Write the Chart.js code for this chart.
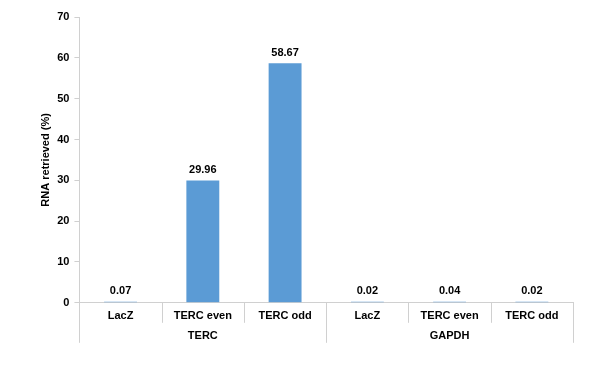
<!DOCTYPE html>
<html>
<head>
<meta charset="utf-8">
<script src="https://cdn.jsdelivr.net/npm/chart.js@4"></script>
<style>
  body { margin: 0; background: #fff; }
  #wrap { width: 600px; height: 383px; }
</style>
</head>
<body>
<div id="wrap"><canvas id="rnaChart" width="600" height="383"></canvas></div>
<script>
// data
var categories = ["LacZ", "TERC even", "TERC odd", "LacZ", "TERC even", "TERC odd"];
var groups = ["TERC", "GAPDH"];
var groupSizes = [3, 3];
var retrieved = [0.07, 29.96, 58.67, 0.02, 0.04, 0.02];
var yTicks = [0, 10, 20, 30, 40, 50, 60, 70];

var lineGrey = "#d0d0d0";
var fontFam = "'Liberation Sans', Arial, sans-serif";

// value labels on top of bars
var barLabels = {
	id: "barLabels",
	afterDatasetsDraw: function(chart) {
		var ctx = chart.ctx;
		var meta = chart.getDatasetMeta(0);
		ctx.save();
		ctx.font = "bold 11px " + fontFam;
		ctx.fillStyle = "#000";
		ctx.textAlign = "center";
		ctx.textBaseline = "bottom";
		meta.data.forEach(function(bar, i) {
			ctx.fillText(retrieved[i].toFixed(2), bar.x, bar.y - 5);
		});
		ctx.restore();
	}
};

// category dividers and group labels under the x axis
var groupAxis = {
	id: "groupAxis",
	afterDraw: function(chart) {
		var ctx = chart.ctx;
		var x = chart.scales.x;
		var y0 = chart.chartArea.bottom;
		var half = (x.getPixelForValue(1) - x.getPixelForValue(0)) / 2;
		ctx.save();
		ctx.strokeStyle = lineGrey;
		ctx.lineWidth = 1;
		// short dividers between every category
		for (var i = 0; i <= categories.length; i++) {
			var px = Math.round(x.getPixelForValue(i) - half) + 0.5;
			ctx.beginPath();
			ctx.moveTo(px, y0);
			ctx.lineTo(px, y0 + 20);
			ctx.stroke();
		}
		// long dividers at group boundaries + group names
		var start = 0;
		ctx.font = "bold 11px " + fontFam;
		ctx.fillStyle = "#000";
		ctx.textAlign = "center";
		ctx.textBaseline = "middle";
		for (var g = 0; g <= groups.length; g++) {
			var bx = Math.round(x.getPixelForValue(start) - half) + 0.5;
			ctx.beginPath();
			ctx.moveTo(bx, y0);
			ctx.lineTo(bx, y0 + 40);
			ctx.stroke();
			if (g < groups.length) {
				var end = start + groupSizes[g] - 1;
				var cx = (x.getPixelForValue(start) + x.getPixelForValue(end)) / 2;
				ctx.fillText(groups[g], cx, y0 + 33);
				start += groupSizes[g];
			}
		}
		ctx.restore();
	}
};

var ctx = document.getElementById("rnaChart").getContext("2d");
var rnaChart = new Chart(ctx, {
	type: "bar",
	data: {
		labels: categories,
		datasets: [{
			data: retrieved,
			backgroundColor: "#5B9BD5",
			borderWidth: 0,
			minBarLength: 1,
			categoryPercentage: 1.0,
			barPercentage: 0.4
		}]
	},
	options: {
		responsive: false,
		animation: false,
		layout: { padding: { top: 17, right: 27, bottom: 53, left: 37 } },
		plugins: {
			legend: { display: false },
			tooltip: { enabled: false }
		},
		scales: {
			x: {
				grid: { display: false, drawTicks: false },
				border: { display: true, color: lineGrey },
				ticks: {
					color: "#000",
					padding: 7,
					font: { family: fontFam, size: 11, weight: "bold" }
				}
			},
			y: {
				min: 0,
				max: 70,
				afterBuildTicks: function(axis) {
					axis.ticks = yTicks.map(function(v) { return { value: v }; });
				},
				grid: { drawOnChartArea: false, tickLength: 5, color: lineGrey },
				border: { color: lineGrey },
				ticks: {
					color: "#000",
					padding: 5,
					font: { family: fontFam, size: 11, weight: "bold" }
				},
				title: {
					display: true,
					text: "RNA retrieved (%)",
					color: "#000",
					padding: { top: 2, bottom: 0 },
					font: { family: fontFam, size: 11, weight: "bold" }
				}
			}
		}
	},
	plugins: [barLabels, groupAxis]
});
</script>
</body>
</html>
